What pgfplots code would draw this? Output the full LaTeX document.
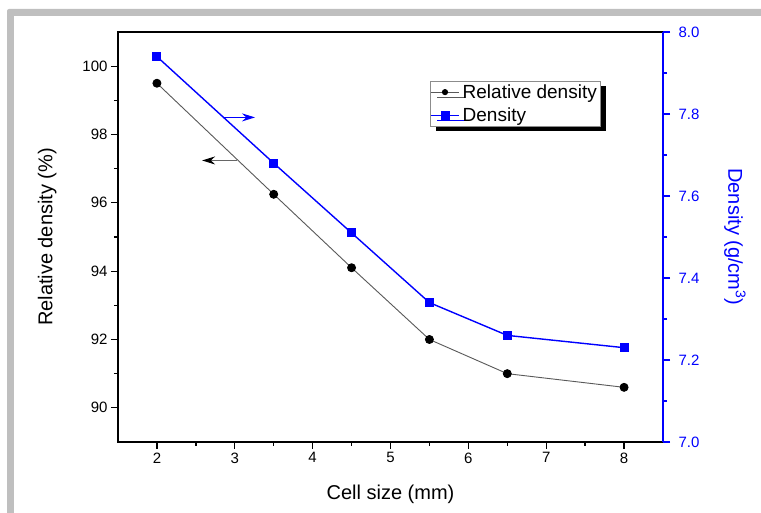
\documentclass[border=0pt]{standalone}
\usepackage{pgfplots}
\pgfplotsset{compat=1.18}
\usepackage{fontspec}
\setmainfont{Liberation Sans}
\usetikzlibrary{arrows.meta,shadows}

% Relative density (%) and density (g/cm^3) against cell size (mm)
\pgfplotstableread{
size reldens
2.0  99.50
3.5  96.25
4.5  94.10
5.5  92.00
6.5  91.00
8.0  90.60
}\reldata
\pgfplotstableread{
size dens
2.0  7.94
3.5  7.68
4.5  7.51
5.5  7.34
6.5  7.26
8.0  7.23
}\densdata

\newcommand{\tickfont}{\fontsize{15}{18}\selectfont}
\newcommand{\labelfont}{\fontsize{20}{24}\selectfont}

\begin{document}
\begin{tikzpicture}
\useasboundingbox (0,0) rectangle (761pt,513pt);
% light grey frame around the figure
\fill[black!25, rounded corners=2pt] (7pt,-5pt) rectangle (770pt,504pt);
\fill[white] (14pt,-5pt) rectangle (770pt,497pt);

\pgfplotsset{
  common/.style={
    at={(118pt,71pt)}, anchor=south west,
    scale only axis, width=545pt, height=410pt,
    xmin=1.5, xmax=8.5,
    tick align=outside,
    major tick length=7pt, minor tick length=4pt,
    /pgf/number format/assume math mode=true,
    ticklabel style={font=\tickfont},
  }
}

\begin{axis}[
  common,
  ymin=89, ymax=101,
  xtick={2,3,4,5,6,7,8}, minor x tick num=1,
  ytick={90,92,94,96,98,100}, minor y tick num=1,
  xtick pos=left, ytick pos=left,
  axis line style={line width=1.6pt, -},
  tick style={line width=1.3pt, black},
  xlabel={Cell size (mm)},
  ylabel={Relative density (\%)},
  every axis x label/.style={at={(axis description cs:0.5,-0.127)}, anchor=center, font=\labelfont},
  every axis y label/.style={at={(axis description cs:-0.13,0.5)}, rotate=90, anchor=center, font=\labelfont},
]
\addplot[black!65, line width=0.9pt, mark=*, mark size=4pt,
  mark options={black, fill=black, solid}] table[x=size, y=reldens] {\reldata};
% arrows pointing each curve to its axis
\draw[black!60, line width=1.2pt, arrows={-Stealth[black, length=13pt, width=8pt]}]
  (axis cs:3.03,97.24) -- (axis cs:2.58,97.24);
\draw[blue, line width=1.2pt, arrows={-Stealth[length=13pt, width=8pt]}]
  (axis cs:2.85,98.5) -- (axis cs:3.26,98.5);
\end{axis}

\begin{axis}[
  common,
  ymin=7.0, ymax=8.0,
  hide x axis,
  axis y line*=right,
  ytick={7.0,7.2,7.4,7.6,7.8,8.0}, minor y tick num=1,
  y axis line style={blue, line width=1.6pt, -},
  tick style={line width=1.3pt, blue},
  yticklabel style={blue, xshift=5pt, /pgf/number format/fixed, /pgf/number format/fixed zerofill,
    /pgf/number format/precision=1},
  ylabel={Density (g/cm\textsuperscript{3})},
  every axis y label/.style={at={(axis description cs:1.132,0.5)}, rotate=-90, anchor=center, blue, font=\labelfont},
  legend cell align=left,
  legend image code/.code={\draw[mark repeat=2, mark phase=2, #1]
    plot coordinates {(0pt,0pt) (14pt,0pt) (28pt,0pt)};},
  legend style={at={(0.5725,0.88)}, anchor=north west,
    draw=black!45, fill=white, line width=0.6pt,
    font=\fontsize{19}{21}\selectfont,
    inner xsep=0pt, inner ysep=2pt, row sep=6pt,
    nodes={inner xsep=3pt, inner ysep=1pt},
    drop shadow={shadow xshift=6pt, shadow yshift=-5pt, fill=black, opacity=1}},
]
\addlegendimage{black!65, line width=0.9pt, mark=*, mark size=2.6pt,
  mark options={black, fill=black, solid}}
\addlegendentry{Relative density}
\addplot[blue, line width=1.4pt, mark=square*, mark size=3.8pt,
  mark options={blue, fill=blue, solid}] table[x=size, y=dens] {\densdata};
\addlegendentry{Density}
\end{axis}
\end{tikzpicture}
\end{document}
